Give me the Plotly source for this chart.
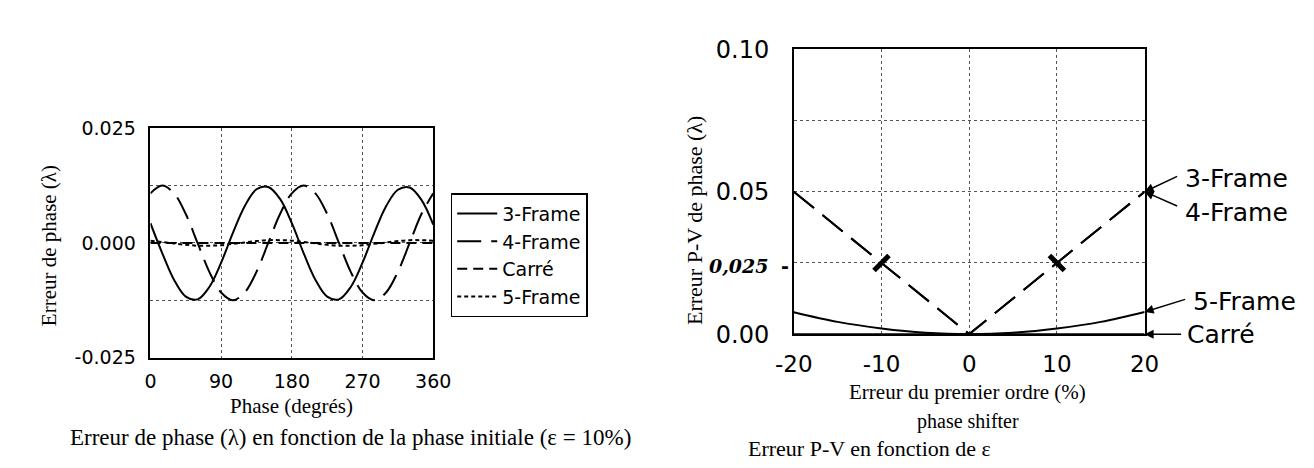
import plotly.graph_objects as go

# ---------------- data: left chart (error vs initial phase, eps = 10%) -------------
phase_deg = [0, 15, 30, 45, 60, 75, 90, 105, 120, 135, 150, 165, 180,
             195, 210, 225, 240, 255, 270, 285, 300, 315, 330, 345, 360]
err_3frame = [0.0043, -0.0022, -0.0080, -0.0117, -0.0123, -0.0096, -0.0043, 0.0022,
              0.0080, 0.0117, 0.0122, 0.0096, 0.0043, -0.0022, -0.0080, -0.0117,
              -0.0123, -0.0096, -0.0043, 0.0022, 0.0080, 0.0116, 0.0121, 0.0094, 0.0040]
err_4frame = [0.0108, 0.0125, 0.0108, 0.0063, 0.0000, -0.0063, -0.0108, -0.0125,
              -0.0108, -0.0063, 0.0000, 0.0063, 0.0108, 0.0125, 0.0108, 0.0063,
              0.0000, -0.0063, -0.0108, -0.0125, -0.0108, -0.0063, 0.0000, 0.0063, 0.0108]
err_carre = [0.0000, 0.0000, 0.0000, 0.0000, 0.0000, 0.0000, 0.0000, 0.0000,
             0.0000, 0.0000, 0.0000, 0.0000, 0.0000, 0.0000, 0.0000, 0.0000,
             0.0000, 0.0000, 0.0000, 0.0000, 0.0000, 0.0000, 0.0000, 0.0000, 0.0000]
err_5frame = [0.0005, 0.0002, -0.0001, -0.0004, -0.0006, -0.0006, -0.0005, -0.0002,
              0.0001, 0.0004, 0.0006, 0.0006, 0.0005, 0.0002, -0.0001, -0.0004,
              -0.0006, -0.0006, -0.0005, -0.0002, 0.0001, 0.0004, 0.0006, 0.0006, 0.0005]

# ---------------- data: right chart (P-V error vs first order error) ---------------
eps_pct = [-20, -15, -10, -5, 0, 5, 10, 15, 20]
pv_3frame = [0.050, 0.0375, 0.025, 0.0125, 0.000, 0.0125, 0.025, 0.0375, 0.050]
pv_4frame = [0.050, 0.0375, 0.025, 0.0125, 0.000, 0.0125, 0.025, 0.0375, 0.050]
pv_5frame = [0.0077, 0.0043, 0.0020, 0.0005, 0.0000, 0.0005, 0.0020, 0.0043, 0.0078]
pv_carre = [0.0, 0.0, 0.0, 0.0, 0.0, 0.0, 0.0, 0.0, 0.0]
hand_mark_x = [-10, 10]
hand_mark_y = [0.025, 0.025]

left_xticks = [0, 90, 180, 270, 360]
left_yticks = [-0.025, 0.0, 0.025]
left_yticklabels = ["-0.025", "0.000", "0.025"]
right_xticks = [-20, -10, 0, 10, 20]
right_xticklabels = ["-20", "-10", "0", "10", "20"]
right_yticks = [0.0, 0.05, 0.10]
right_yticklabels = ["0.00", "0.05", "0.10"]

W, H = 1314, 468


def px(x):
    return x / W


def py(y):
    return 1 - y / H


SANS = "DejaVu Sans"
SERIF = "Liberation Serif"
BLACK = "black"

fig = go.Figure()

# left chart traces
fig.add_trace(go.Scatter(x=phase_deg, y=err_3frame, name="3-Frame", mode="lines",
                         line=dict(color=BLACK, width=2, shape="spline"),
                         xaxis="x", yaxis="y"))
fig.add_trace(go.Scatter(x=phase_deg, y=err_4frame, name="4-Frame", mode="lines",
                         line=dict(color=BLACK, width=2, shape="spline", dash="24px,10px"),
                         xaxis="x", yaxis="y"))
fig.add_trace(go.Scatter(x=phase_deg, y=err_carre, name="Carré", mode="lines",
                         line=dict(color=BLACK, width=2, shape="spline", dash="10px,6px"),
                         xaxis="x", yaxis="y"))
fig.add_trace(go.Scatter(x=phase_deg, y=err_5frame, name="5-Frame", mode="lines",
                         line=dict(color=BLACK, width=2, shape="spline", dash="4px,3px"),
                         xaxis="x", yaxis="y"))

# right chart traces
fig.add_trace(go.Scatter(x=eps_pct, y=pv_3frame, name="3-Frame", mode="lines", showlegend=False,
                         line=dict(color=BLACK, width=2, dash="26px,11px"),
                         xaxis="x2", yaxis="y2"))
fig.add_trace(go.Scatter(x=eps_pct, y=pv_4frame, name="4-Frame", mode="lines", showlegend=False,
                         line=dict(color=BLACK, width=2, dash="26px,11px"),
                         xaxis="x2", yaxis="y2"))
fig.add_trace(go.Scatter(x=eps_pct, y=pv_5frame, name="5-Frame", mode="lines", showlegend=False,
                         line=dict(color=BLACK, width=2, shape="spline"),
                         xaxis="x2", yaxis="y2"))
fig.add_trace(go.Scatter(x=eps_pct, y=pv_carre, name="Carré", mode="lines", showlegend=False,
                         line=dict(color=BLACK, width=2),
                         xaxis="x2", yaxis="y2"))
fig.add_trace(go.Scatter(x=hand_mark_x, y=hand_mark_y, mode="markers", showlegend=False,
                         marker=dict(symbol=["line-ne", "line-nw"], size=15,
                                     line=dict(color=BLACK, width=5)),
                         xaxis="x2", yaxis="y2", hoverinfo="skip"))

grid = dict(gridcolor="#555555", griddash="dot", gridwidth=1)
frame = dict(showline=True, mirror=True, linecolor=BLACK, linewidth=1.5, zeroline=False,
             ticks="outside", tickcolor="rgba(0,0,0,0)")

fig.update_layout(
    width=W, height=H,
    margin=dict(l=0, r=0, t=0, b=0),
    paper_bgcolor="white", plot_bgcolor="white",
    showlegend=True,
    legend=dict(x=px(436), y=py(182), xanchor="left", yanchor="top",
                bordercolor=BLACK, borderwidth=1.5, bgcolor="white",
                font=dict(family=SANS, size=19, color=BLACK),
                tracegroupgap=0, itemwidth=40),
    xaxis=dict(domain=[px(127), px(418)], range=[0, 360], anchor="y",
               tickvals=left_xticks, ticklen=6,
               tickfont=dict(family=SANS, size=19, color=BLACK),
               showgrid=True, **grid, **frame),
    yaxis=dict(domain=[py(357), py(113)], range=[-0.025, 0.025], anchor="x",
               tickvals=left_yticks, ticktext=left_yticklabels, ticklen=9,
               tickfont=dict(family=SANS, size=19, color=BLACK),
               showgrid=False,
               minor=dict(tick0=-0.025, dtick=0.0125, showgrid=True, ticks="",
                          gridcolor="#555555", griddash="dot", gridwidth=1),
               **frame),
    xaxis2=dict(domain=[px(789), px(1150)], range=[-20, 20], anchor="y2",
                tickvals=right_xticks, ticktext=right_xticklabels, ticklen=9,
                tickfont=dict(family=SANS, size=23, color=BLACK),
                showgrid=True, **grid, **frame),
    yaxis2=dict(domain=[py(332), py(29)], range=[0, 0.10], anchor="x2",
                tickvals=right_yticks, ticktext=right_yticklabels, ticklen=18,
                tickfont=dict(family=SANS, size=24, color=BLACK),
                showgrid=True,
                minor=dict(tick0=0, dtick=0.025, showgrid=True, ticks="",
                           gridcolor="#555555", griddash="dot", gridwidth=1),
                **grid, **frame),
)

ann = []


def text(x, y, s, size, family=SERIF, xanchor="center", angle=0):
    ann.append(dict(x=px(x), y=py(y), xref="paper", yref="paper", text=s,
                    showarrow=False, xanchor=xanchor, yanchor="middle", textangle=angle,
                    font=dict(family=family, size=size, color=BLACK)))


# axis titles and captions
text(22, 238, "Erreur de phase (λ)", 21, angle=-90)
text(272, 408, "Phase (degrés)", 21)
text(42, 442, "Erreur de phase (λ) en fonction de la phase initiale (ε = 10%)", 23, xanchor="left")
text(687, 211, "Erreur P-V de phase (λ)", 22, angle=-90)
text(968, 394, "Erreur du premier ordre (%)", 21)
text(968, 425, "phase shifter", 20)
text(740, 454, "Erreur P-V en fonction de ε", 22, xanchor="left")

# handwritten annotation
ann.append(dict(x=px(733), y=py(259), xref="paper", yref="paper",
                text="<b><i>0,025</i></b>", showarrow=False,
                font=dict(family="DejaVu Serif", size=19, color=BLACK)))
ann.append(dict(x=px(780), y=py(259), xref="paper", yref="paper",
                text="<b>-</b>", showarrow=False,
                font=dict(family="DejaVu Sans", size=19, color=BLACK)))

# right-side series labels
text(1190, 166, "3-Frame", 25, family=SANS, xanchor="left")
text(1190, 203, "4-Frame", 25, family=SANS, xanchor="left")
text(1198, 297, "5-Frame", 25, family=SANS, xanchor="left")
text(1192, 332, "Carré", 25, family=SANS, xanchor="left")


def arrow(xv, yv, ax, ay):
    ann.append(dict(x=xv, y=yv, xref="x2", yref="y2", text="", showarrow=True,
                    ax=ax, ay=ay, axref="pixel", ayref="pixel",
                    arrowhead=2, arrowsize=1.2, arrowwidth=1.5, arrowcolor=BLACK,
                    standoff=0, startstandoff=0))


arrow(eps_pct[-1], pv_3frame[-1], 34, -16)
arrow(eps_pct[-1], pv_4frame[-1], 34, 15)
arrow(eps_pct[-1], pv_5frame[-1], 42, -13)
arrow(eps_pct[-1], pv_carre[-1], 38, 0)

fig.update_layout(annotations=ann)

fig.write_html("out.html")
